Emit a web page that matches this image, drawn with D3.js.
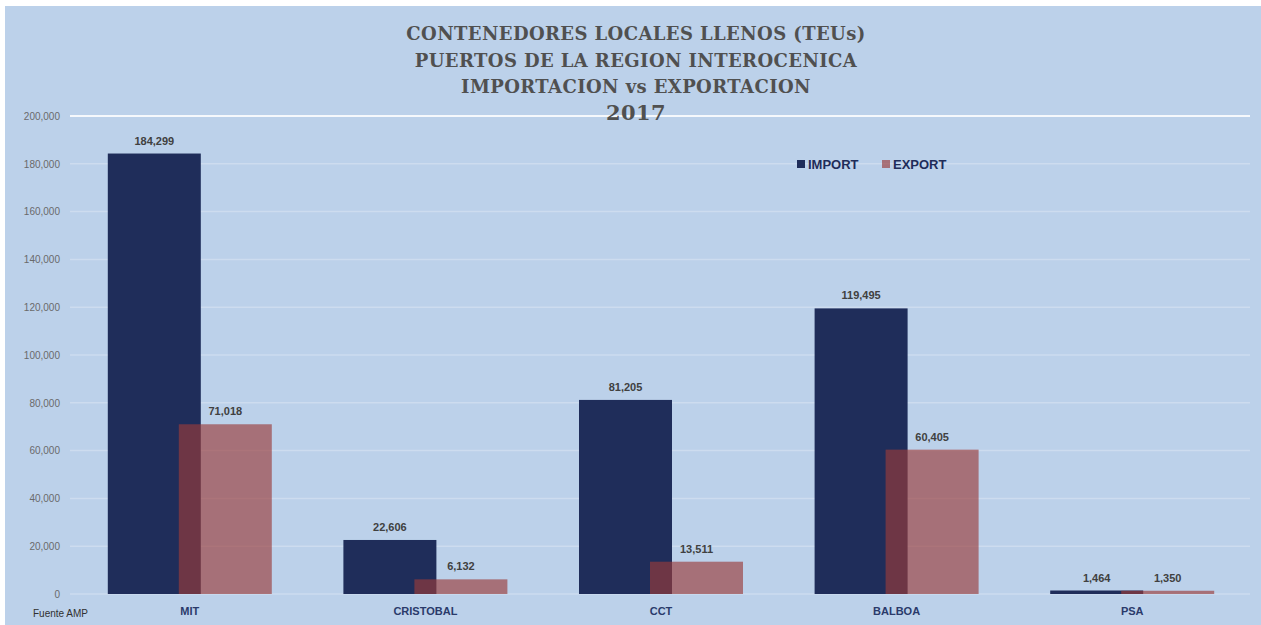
<!DOCTYPE html>
<html>
<head>
<meta charset="utf-8">
<script src="https://cdnjs.cloudflare.com/ajax/libs/d3/7.8.5/d3.min.js"></script>
<style>
  body { margin: 0; background: #fff; }
  svg { display: block; }
</style>
</head>
<body>
<svg width="1261" height="625"></svg>
<script>
"use strict";

var ports = ["MIT", "CRISTOBAL", "CCT", "BALBOA", "PSA"];
var importVals = [184299, 22606, 81205, 119495, 1464];
var exportVals = [71018, 6132, 13511, 60405, 1350];
var yTicks = [0, 20000, 40000, 60000, 80000, 100000, 120000, 140000, 160000, 180000, 200000];
var titleLines = ["CONTENEDORES LOCALES LLENOS (TEUs)", "PUERTOS DE LA REGION INTEROCENICA", "IMPORTACION vs EXPORTACION", "2017"];

var svg = d3.select("svg");
var width = 1261, height = 625;
var plotLeft = 72, plotRight = 1250, plotTop = 116, plotBottom = 594;

// panel background
svg.append("rect")
    .attr("x", 5).attr("y", 6)
    .attr("width", width - 5).attr("height", height - 6)
    .attr("fill", "#bcd1ea");

var x = d3.scaleBand().domain(ports).range([plotLeft, plotRight]);
var y = d3.scaleLinear().domain([0, 200000]).range([plotBottom, plotTop]);
var fmt = d3.format(",");

// gridlines
svg.append("g").selectAll("line")
    .data(yTicks)
    .enter().append("line")
    .attr("x1", plotLeft - 2).attr("x2", plotRight)
    .attr("y1", function(d) { return y(d); })
    .attr("y2", function(d) { return y(d); })
    .attr("stroke", "#ffffff")
    .attr("stroke-opacity", function(d) { return d === 200000 ? 0.85 : 0.25; })
    .attr("stroke-width", function(d) { return d === 200000 ? 2 : 1.5; });

// y axis labels
var yAxis = d3.axisLeft(y).tickValues(yTicks).tickFormat(fmt).tickSize(0).tickPadding(8);
var yg = svg.append("g").attr("transform", "translate(" + (plotLeft - 4) + ",0)").call(yAxis);
yg.select(".domain").remove();
yg.selectAll("text")
    .attr("fill", "#6a6a6a")
    .style("font-family", "'Liberation Sans Narrow', 'Liberation Sans', sans-serif")
    .style("font-size", "10px");

// title
svg.append("g").selectAll("text")
    .data(titleLines)
    .enter().append("text")
    .attr("x", 636)
    .attr("y", function(d, i) { return 40 + i * 26.5 + (i === 3 ? 0 : 0); })
    .attr("text-anchor", "middle")
    .attr("fill", "#505050")
    .style("font-family", "'DejaVu Serif', serif")
    .style("font-weight", "bold")
    .style("font-size", function(d, i) { return i === 3 ? "21px" : "18px"; })
    .style("letter-spacing", "0.4px")
    .text(function(d) { return d; });

var barW = 93, offset = 71;
var spanStart = function(p) { return x(p) + (x.bandwidth() - (offset + barW)) / 2; };

var groups = svg.append("g").selectAll("g")
    .data(ports)
    .enter().append("g");

// import bars
groups.append("rect")
    .attr("x", function(d) { return spanStart(d); })
    .attr("y", function(d, i) { return y(importVals[i]); })
    .attr("width", barW)
    .attr("height", function(d, i) { return plotBottom - y(importVals[i]); })
    .attr("fill", "#1f2d5a");

// export bars (semi transparent, overlapping)
groups.append("rect")
    .attr("x", function(d) { return spanStart(d) + offset; })
    .attr("y", function(d, i) { return y(exportVals[i]); })
    .attr("width", barW)
    .attr("height", function(d, i) { return plotBottom - y(exportVals[i]); })
    .attr("fill", "#9a3c3a")
    .attr("fill-opacity", 0.65);

var labelStyle = function(sel) {
  sel.attr("text-anchor", "middle")
    .attr("fill", "#404040")
    .style("font-family", "'Liberation Sans Narrow', 'Liberation Sans', sans-serif")
    .style("font-weight", "bold")
    .style("font-size", "11px");
};

groups.append("text")
    .attr("x", function(d) { return spanStart(d) + barW / 2; })
    .attr("y", function(d, i) { return y(importVals[i]) - 9; })
    .text(function(d, i) { return fmt(importVals[i]); })
    .call(labelStyle);

groups.append("text")
    .attr("x", function(d) { return spanStart(d) + offset + barW / 2; })
    .attr("y", function(d, i) { return y(exportVals[i]) - 9; })
    .text(function(d, i) { return fmt(exportVals[i]); })
    .call(labelStyle);

// category labels
var xAxis = d3.axisBottom(x).tickSize(0).tickPadding(13);
var xg = svg.append("g").attr("transform", "translate(0," + plotBottom + ")").call(xAxis);
xg.select(".domain").remove();
xg.selectAll("text")
    .attr("fill", "#2a3a6a")
    .style("font-family", "'Liberation Sans Narrow', 'Liberation Sans', sans-serif")
    .style("font-weight", "bold")
    .style("font-size", "11px");

// source note
svg.append("text")
    .attr("x", 33).attr("y", 617)
    .attr("fill", "#303030")
    .style("font-family", "'Liberation Sans Narrow', 'Liberation Sans', sans-serif")
    .style("font-size", "10px")
    .text("Fuente AMP");

// legend
var legend = svg.append("g").attr("transform", "translate(797,164)");
var legendItems = [{name: "IMPORT", color: "#1f2d5a", op: 1}, {name: "EXPORT", color: "#9a3c3a", op: 0.65}];
var li = legend.selectAll("g").data(legendItems).enter().append("g")
    .attr("transform", function(d, i) { return "translate(" + (i * 85) + ",0)"; });
li.append("rect")
    .attr("x", 0).attr("y", -4).attr("width", 8).attr("height", 8)
    .attr("fill", function(d) { return d.color; })
    .attr("fill-opacity", function(d) { return d.op; });
li.append("text")
    .attr("x", 11).attr("y", 5)
    .attr("fill", "#1f2d5a")
    .style("font-family", "'Liberation Sans Narrow', 'Liberation Sans', sans-serif")
    .style("font-weight", "bold")
    .style("font-size", "13px")
    .text(function(d) { return d.name; });
</script>
</body>
</html>
